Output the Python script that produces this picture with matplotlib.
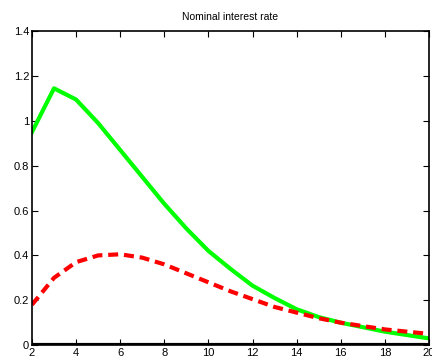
import numpy as np
import matplotlib.pyplot as plt

plt.rcParams['font.family'] = ['Liberation Sans', 'DejaVu Sans']

periods = np.arange(2, 21)
green = [0.95, 1.145, 1.095, 0.99, 0.87, 0.75, 0.63, 0.52, 0.42, 0.34,
         0.265, 0.21, 0.16, 0.125, 0.10, 0.08, 0.06, 0.045, 0.03]
red = [0.18, 0.30, 0.37, 0.40, 0.405, 0.39, 0.36, 0.32, 0.28, 0.24,
       0.205, 0.17, 0.145, 0.12, 0.10, 0.085, 0.07, 0.06, 0.05]
xticks = np.arange(2, 21, 2)
yticks = np.arange(0, 1.41, 0.2)

fig = plt.figure(figsize=(4.32, 3.58), dpi=100)
ax = fig.add_axes([0.074, 0.036, 0.919, 0.877])

ax.plot(periods, green, color='#00ff00', lw=3)
ax.plot(periods, red, color='#ff0000', lw=3, ls=(0, (2.4, 1.4)))
ax.axhline(0, color='black', lw=3)

ax.set_xlim(2, 20)
ax.set_ylim(0, 1.4)
ax.set_xticks(xticks)
ax.set_yticks(yticks)
ax.set_yticklabels(['0', '0.2', '0.4', '0.6', '0.8', '1', '1.2', '1.4'])
ax.tick_params(direction='in', top=True, right=True, labelsize=8, length=4,
               width=0.8, pad=2)
for s in ax.spines.values():
    s.set_linewidth(1.2)
ax.set_title('Nominal interest rate', fontsize=7.5, pad=8)

fig.savefig('out.png', dpi=100)
